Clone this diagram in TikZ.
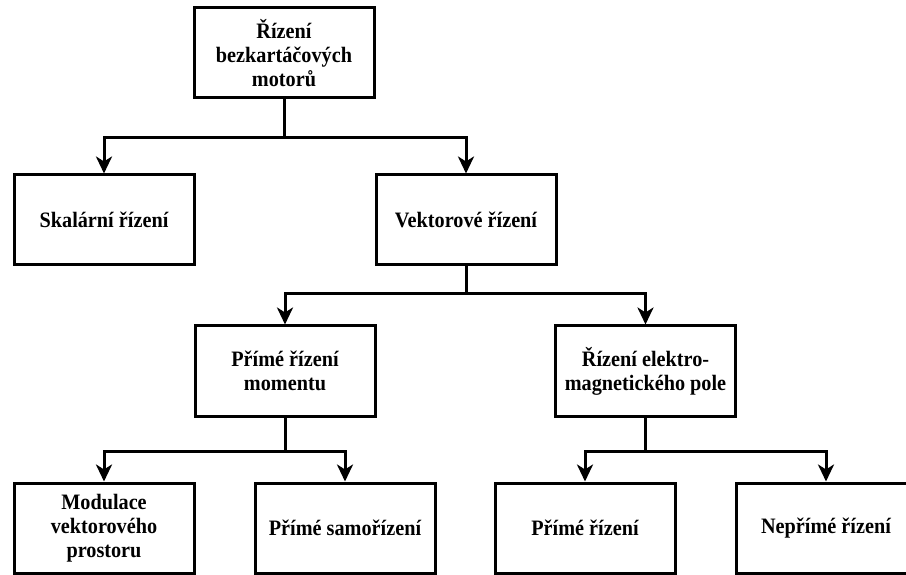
\documentclass[tikz,border=0pt]{standalone}
\usepackage{fontspec}
\setmainfont{Liberation Serif}[FakeStretch=0.92]
\usetikzlibrary{arrows.meta}
\begin{document}
\begin{tikzpicture}[x=1pt,y=1pt,
  box/.style={draw=black,line width=3pt,minimum width=180pt,minimum height=90pt,inner sep=0pt,
    align=center,font=\fontsize{22}{24}\selectfont\bfseries,fill=white},
  arr/.style={line width=3pt,-{Stealth[length=17pt,width=16pt,inset=5pt]}}]
\useasboundingbox (0,0) rectangle (906,574);
\fill[white] (0,0) rectangle (906,574);
\node[box] (top) at (284,521) {Řízení\\bezkartáčových\\motorů};
\node[box] (skal) at (104,354) {Skalární řízení};
\node[box] (vekt) at (466,354) {Vektorové řízení};
\node[box] (pmom) at (285,203) {Přímé řízení\\momentu};
\node[box] (elm) at (645.5,203) {Řízení elektro-\\magnetického pole};
\node[box] (mod) at (104,46) {Modulace\\vektorového\\prostoru};
\node[box] (sam) at (345,46) {Přímé samořízení};
\node[box] (pri) at (585,46) {Přímé řízení};
\node[box] (nep) at (826,46) {Nepřímé řízení};
\draw[arr] (top.south) -- ++(0,-38) -| (skal.north);
\draw[arr] (top.south) -- ++(0,-38) -| (vekt.north);
\draw[arr] (vekt.south) -- ++(0,-27) -| (pmom.north);
\draw[arr] (vekt.south) -- ++(0,-27) -| (elm.north);
\draw[arr] (pmom.south) -- ++(0,-34) -| (mod.north);
\draw[arr] (pmom.south) -- ++(0,-34) -| (sam.north);
\draw[arr] (elm.south) -- ++(0,-34) -| (pri.north);
\draw[arr] (elm.south) -- ++(0,-34) -| (nep.north);
\end{tikzpicture}
\end{document}
